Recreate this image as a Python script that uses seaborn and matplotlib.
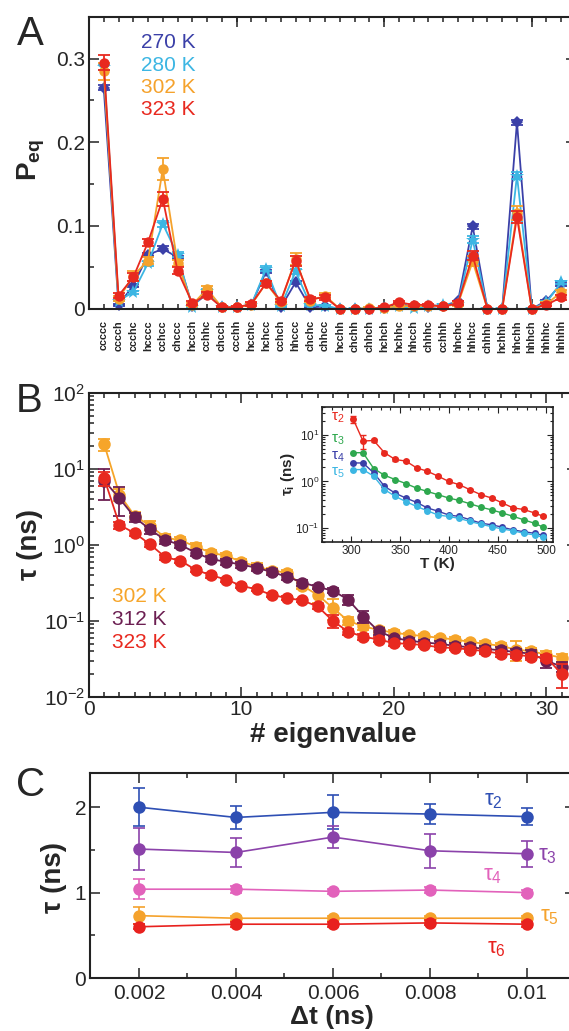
import matplotlib
matplotlib.use('Agg')
import matplotlib.pyplot as plt
import seaborn as sns
from matplotlib.ticker import MultipleLocator, LogLocator, NullFormatter

# ---------------- data ----------------
# panel A: equilibrium populations of the 32 conformational states
states = ['ccccc', 'cccch', 'ccchc', 'hcccc', 'cchcc', 'chccc', 'hccch', 'cchhc',
          'chcch', 'ccchh', 'hcchc', 'hchcc', 'cchch', 'hhccc', 'chchc', 'chhcc',
          'hcchh', 'chchh', 'chhch', 'hchch', 'hchhc', 'hhcch', 'chhhc', 'cchhh',
          'hhchc', 'hhhcc', 'chhhh', 'hchhh', 'hhchh', 'hhhch', 'hhhhc', 'hhhhh']
state_pos = list(range(1, 33))
p270 = [0.265, 0.005, 0.028, 0.065, 0.072, 0.062, 0.004, 0.018, 0.002, 0.002, 0.005, 0.045,
        0.002, 0.032, 0.002, 0.003, 0.0, 0.0, 0.0, 0.001, 0.006, 0.003, 0.002, 0.004,
        0.009, 0.099, 0.0, 0.0, 0.224, 0.0, 0.010, 0.030]
p280 = [0.290, 0.010, 0.020, 0.055, 0.102, 0.065, 0.002, 0.022, 0.002, 0.002, 0.005, 0.048,
        0.003, 0.045, 0.005, 0.004, 0.0, 0.0, 0.0, 0.001, 0.003, 0.001, 0.003, 0.005,
        0.006, 0.083, 0.0, 0.0, 0.160, 0.0, 0.008, 0.032]
p302 = [0.285, 0.012, 0.040, 0.058, 0.168, 0.055, 0.005, 0.024, 0.002, 0.002, 0.005, 0.031,
        0.008, 0.060, 0.010, 0.016, 0.0, 0.0, 0.001, 0.001, 0.004, 0.003, 0.004, 0.003,
        0.006, 0.057, 0.0, 0.0, 0.115, 0.0, 0.006, 0.020]
p323 = [0.295, 0.016, 0.038, 0.080, 0.132, 0.046, 0.007, 0.017, 0.002, 0.002, 0.006, 0.031,
        0.010, 0.058, 0.012, 0.014, 0.0, 0.0, 0.0, 0.002, 0.008, 0.005, 0.005, 0.003,
        0.007, 0.064, 0.0, 0.0, 0.110, 0.0, 0.005, 0.014]
e270 = [0.003, 0.001, 0.002, 0.002, 0.003, 0.002, 0.001, 0.001, 0.0, 0.0, 0.001, 0.002,
        0.0, 0.002, 0.0, 0.0, 0.0, 0.0, 0.0, 0.0, 0.001, 0.0, 0.0, 0.001,
        0.001, 0.003, 0.0, 0.0, 0.003, 0.0, 0.001, 0.002]
e280 = [0.004, 0.001, 0.002, 0.003, 0.004, 0.003, 0.001, 0.002, 0.0, 0.0, 0.001, 0.003,
        0.001, 0.003, 0.001, 0.001, 0.0, 0.0, 0.0, 0.0, 0.001, 0.0, 0.001, 0.001,
        0.001, 0.004, 0.0, 0.0, 0.004, 0.0, 0.001, 0.002]
e302 = [0.010, 0.003, 0.006, 0.004, 0.013, 0.004, 0.002, 0.003, 0.001, 0.001, 0.002, 0.003,
        0.002, 0.007, 0.002, 0.003, 0.0, 0.0, 0.001, 0.001, 0.001, 0.001, 0.001, 0.001,
        0.002, 0.006, 0.0, 0.0, 0.008, 0.0, 0.002, 0.003]
e323 = [0.009, 0.003, 0.005, 0.004, 0.008, 0.004, 0.002, 0.003, 0.001, 0.001, 0.002, 0.003,
        0.002, 0.006, 0.002, 0.003, 0.0, 0.0, 0.0, 0.001, 0.001, 0.001, 0.001, 0.001,
        0.002, 0.005, 0.0, 0.0, 0.007, 0.0, 0.002, 0.003]

# panel B: relaxation times vs eigenvalue index
eig_idx = list(range(1, 32))
tau302 = [21.0, 4.6, 2.4, 1.8, 1.25, 1.15, 0.95, 0.79, 0.72, 0.60, 0.52, 0.46, 0.43, 0.29,
          0.22, 0.148, 0.100, 0.085, 0.076, 0.070, 0.066, 0.063, 0.060, 0.057, 0.053,
          0.050, 0.047, 0.042, 0.040, 0.036, 0.033]
tau312 = [7.0, 4.1, 2.3, 1.6, 1.16, 1.0, 0.79, 0.65, 0.60, 0.55, 0.50, 0.44, 0.38, 0.32,
          0.28, 0.25, 0.19, 0.114, 0.073, 0.060, 0.055, 0.052, 0.050, 0.047, 0.045,
          0.043, 0.041, 0.039, 0.037, 0.030, 0.025]
tau323 = [7.5, 1.83, 1.43, 1.02, 0.69, 0.62, 0.47, 0.40, 0.35, 0.29, 0.26, 0.22, 0.20, 0.186,
          0.155, 0.100, 0.072, 0.062, 0.057, 0.051, 0.050, 0.048, 0.045, 0.044, 0.042,
          0.040, 0.037, 0.036, 0.034, 0.033, 0.020]
etau302 = [4.0, 0.8, 0.3, 0.25, 0.15, 0.12, 0.10, 0.08, 0.07, 0.06, 0.05, 0.04, 0.04, 0.03,
           0.05, 0.045, 0.012, 0.010, 0.006, 0.005, 0.004, 0.004, 0.004, 0.004, 0.004,
           0.004, 0.004, 0.012, 0.004, 0.004, 0.004]
etau312 = [3.1, 1.7, 0.3, 0.2, 0.12, 0.10, 0.07, 0.06, 0.05, 0.05, 0.04, 0.04, 0.03, 0.03,
           0.02, 0.02, 0.03, 0.02, 0.008, 0.004, 0.004, 0.004, 0.004, 0.004, 0.004,
           0.004, 0.004, 0.004, 0.004, 0.006, 0.004]
etau323 = [1.5, 0.2, 0.1, 0.08, 0.05, 0.04, 0.03, 0.03, 0.02, 0.02, 0.015, 0.015, 0.01, 0.01,
           0.01, 0.02, 0.006, 0.005, 0.004, 0.004, 0.003, 0.003, 0.003, 0.003, 0.003,
           0.003, 0.003, 0.003, 0.003, 0.003, 0.007]

# inset: slowest relaxation times vs temperature
temps = [302, 312, 323, 334, 345, 356, 367, 378, 389, 400, 411, 422, 433, 444, 455, 466,
         477, 488, 497]
t2 = [21.8, 7.4, 7.6, 4.15, 2.97, 2.74, 1.96, 1.66, 1.30, 1.0, 0.85, 0.66, 0.52, 0.44,
      0.345, 0.27, 0.25, 0.21, 0.178]
t3 = [4.15, 4.15, 1.9, 1.36, 1.1, 0.9, 0.72, 0.61, 0.52, 0.44, 0.39, 0.33, 0.28, 0.245,
      0.21, 0.178, 0.15, 0.126, 0.104]
t4 = [2.5, 2.5, 1.53, 0.79, 0.56, 0.44, 0.355, 0.27, 0.23, 0.19, 0.177, 0.15, 0.127, 0.117,
      0.104, 0.091, 0.083, 0.077, 0.069]
t5 = [1.8, 1.8, 1.3, 0.67, 0.48, 0.37, 0.29, 0.235, 0.19, 0.177, 0.16, 0.138, 0.12, 0.107,
      0.095, 0.087, 0.077, 0.071, 0.063]
et2 = [3.5, 2.5, 0.6, 0.3, 0.2, 0.15, 0.1, 0.08, 0.06, 0.05, 0.04, 0.03, 0.02, 0.02,
       0.015, 0.01, 0.01, 0.01, 0.008]

# panel C: relaxation times vs lag time
lag = [0.002, 0.004, 0.006, 0.008, 0.010]
c_tau2 = [2.00, 1.88, 1.94, 1.92, 1.89]
c_tau3 = [1.51, 1.47, 1.65, 1.49, 1.455]
c_tau4 = [1.04, 1.04, 1.015, 1.03, 1.00]
c_tau5 = [0.73, 0.70, 0.70, 0.70, 0.70]
c_tau6 = [0.60, 0.63, 0.63, 0.645, 0.63]
c_err2 = [0.22, 0.13, 0.20, 0.12, 0.10]
c_err3 = [0.25, 0.17, 0.13, 0.20, 0.15]
c_err4 = [0.12, 0.04, 0.03, 0.04, 0.03]
c_err5 = [0.10, 0.03, 0.03, 0.03, 0.03]
c_err6 = [0.03, 0.03, 0.03, 0.03, 0.03]

# ---------------- style ----------------
sns.set_style('ticks')
plt.rcParams['font.family'] = ['Liberation Sans', 'DejaVu Sans']
plt.rcParams['mathtext.fontset'] = 'custom'
plt.rcParams['mathtext.rm'] = 'Liberation Sans'
plt.rcParams['mathtext.it'] = 'Liberation Sans:italic'
plt.rcParams['mathtext.bf'] = 'Liberation Sans:bold'
plt.rcParams['axes.edgecolor'] = '#222222'


def draw(ax, x, y, err, color, marker='o', ms=7, lw=1.3, cap=4):
    sns.lineplot(x=x, y=y, ax=ax, color=color, marker=marker, markersize=ms,
                 markeredgewidth=0, linewidth=lw, errorbar=None, clip_on=False)
    ax.errorbar(x, y, yerr=err, fmt='none', ecolor=color, elinewidth=lw,
                capsize=cap, capthick=lw, clip_on=False)


def frame(ax, major=7, minor=3.5, width=1.1, spine=1.5):
    ax.tick_params(which='both', direction='in', top=True, right=True,
                   width=width, color='#222222')
    ax.tick_params(which='major', length=major)
    ax.tick_params(which='minor', length=minor)
    for s in ax.spines.values():
        s.set_linewidth(spine)


fig = plt.figure(figsize=(5.69, 10.31), dpi=100)

# ---------------- panel A ----------------
axA = fig.add_axes([0.1564, 0.7003, 0.8559, 0.2832])
cA = {'270 K': '#3b40a8', '280 K': '#3cb6e3', '302 K': '#f5a22c', '323 K': '#e8291f'}
draw(axA, state_pos, p270, e270, cA['270 K'], marker='D', ms=6.5)
draw(axA, state_pos, p280, e280, cA['280 K'], marker='*', ms=10.5)
draw(axA, state_pos, p302, e302, cA['302 K'], ms=7.5)
draw(axA, state_pos, p323, e323, cA['323 K'], ms=7.5)
axA.set_xlim(0, 33)
axA.set_ylim(0, 0.35)
axA.xaxis.remove_overlapping_locs = False
axA.set_xticks([0, 10, 20, 30], labels=['', '', '', ''])
axA.set_xticks(state_pos, labels=states, minor=True, rotation=90,
               fontsize=7.8, fontweight='bold')
axA.set_yticks([0, 0.1, 0.2, 0.3], labels=['0', '0.1', '0.2', '0.3'])
axA.yaxis.set_minor_locator(MultipleLocator(0.05))
frame(axA)
axA.tick_params(axis='x', which='minor', pad=8)
axA.tick_params(axis='y', labelsize=15, pad=3)
axA.set_ylabel(r'$\mathbf{P_{eq}}$', fontsize=20)
axA.yaxis.set_label_coords(-0.086, 0.51)
for i, (lab, col) in enumerate(cA.items()):
    axA.text(0.107, 0.911 - i * 0.076, lab, color=col, fontsize=15,
             transform=axA.transAxes, va='center', ha='left')

# ---------------- panel B ----------------
axB = fig.add_axes([0.1564, 0.3240, 0.8576, 0.2949])
cB = {'302 K': '#f6a52a', '312 K': '#6c1f52', '323 K': '#e8291f'}
axB.set_yscale('log')
draw(axB, eig_idx, tau302, etau302, cB['302 K'], ms=9, cap=4.5)
draw(axB, eig_idx, tau312, etau312, cB['312 K'], ms=9, cap=4.5)
draw(axB, eig_idx, tau323, etau323, cB['323 K'], ms=9, cap=4.5)
axB.set_xlim(0, 32)
axB.set_ylim(1e-2, 1e2)
axB.set_xticks([0, 10, 20, 30])
axB.xaxis.set_minor_locator(MultipleLocator(1))
axB.yaxis.set_major_locator(LogLocator(base=10, numticks=10))
axB.yaxis.set_minor_locator(LogLocator(base=10, subs=range(2, 10), numticks=20))
axB.yaxis.set_minor_formatter(NullFormatter())
frame(axB)
axB.tick_params(axis='both', labelsize=15)
axB.tick_params(axis='x', pad=2)
axB.tick_params(axis='y', pad=3)
axB.set_xlabel('# eigenvalue', fontsize=20, fontweight='bold')
axB.xaxis.set_label_coords(0.5, -0.082)
axB.set_ylabel('τ (ns)', fontsize=20, fontweight='bold')
axB.yaxis.set_label_coords(-0.094, 0.5)
for i, (lab, col) in enumerate(cB.items()):
    axB.text(0.047, 0.33 - i * 0.076, lab, color=col, fontsize=15,
             transform=axB.transAxes, va='center', ha='left')

# inset
axI = fig.add_axes([0.566, 0.4743, 0.406, 0.131])
axI.set_facecolor('white')
cI = ['#e8291f', '#2ea84e', '#3b40a8', '#3cb6e3']
axI.set_yscale('log')
draw(axI, temps, t2, et2, cI[0], ms=5, lw=1.0, cap=2.5)
draw(axI, temps, t3, None, cI[1], ms=5, lw=1.0, cap=2.5)
draw(axI, temps, t4, None, cI[2], ms=5, lw=1.0, cap=2.5)
draw(axI, temps, t5, None, cI[3], ms=5, lw=1.0, cap=2.5)
axI.set_xlim(270, 507)
axI.set_ylim(0.05, 40)
axI.set_xticks([300, 350, 400, 450, 500])
axI.xaxis.set_minor_locator(MultipleLocator(10))
axI.yaxis.set_major_locator(LogLocator(base=10, numticks=10))
axI.yaxis.set_minor_locator(LogLocator(base=10, subs=range(2, 10), numticks=20))
axI.yaxis.set_minor_formatter(NullFormatter())
frame(axI, major=4, minor=2, width=0.8, spine=1.2)
axI.tick_params(axis='both', labelsize=8.5, pad=2)
axI.set_xlabel('T (K)', fontsize=11, fontweight='bold', labelpad=0)
axI.set_ylabel(r'$\mathbf{\tau_i}$ (ns)', fontsize=11, fontweight='bold', labelpad=0)
axI.yaxis.set_label_coords(-0.108, 0.5)
for i, lab in enumerate([r'$\mathregular{\tau_2}$', r'$\mathregular{\tau_3}$',
                         r'$\mathregular{\tau_4}$', r'$\mathregular{\tau_5}$']):
    axI.text(0.07, [0.92, 0.755, 0.63, 0.51][i], lab, color=cI[i], fontsize=11,
             transform=axI.transAxes, va='center', ha='center')

# ---------------- panel C ----------------
axC = fig.add_axes([0.1590, 0.0514, 0.8524, 0.1988])
cC = ['#2e4fb4', '#8b42aa', '#e262bb', '#f5a22c', '#e8211e']
series = [c_tau2, c_tau3, c_tau4, c_tau5, c_tau6]
errs = [c_err2, c_err3, c_err4, c_err5, c_err6]
for yv, ev, col in zip(series, errs, cC):
    draw(axC, lag, yv, ev, col, ms=9, lw=1.2, cap=4.5)
axC.set_xlim(0.001, 0.011)
axC.set_ylim(0, 2.4)
axC.set_xticks(lag, labels=['0.002', '0.004', '0.006', '0.008', '0.01'])
axC.xaxis.set_minor_locator(MultipleLocator(0.001))
axC.set_yticks([0, 1, 2])
axC.yaxis.set_minor_locator(MultipleLocator(0.5))
frame(axC)
axC.tick_params(axis='both', labelsize=15)
axC.tick_params(axis='x', pad=4)
axC.tick_params(axis='y', pad=3)
axC.set_xlabel('Δt (ns)', fontsize=19, fontweight='bold')
axC.xaxis.set_label_coords(0.498, -0.13)
axC.set_ylabel('τ (ns)', fontsize=20, fontweight='bold')
axC.yaxis.set_label_coords(-0.048, 0.49)
c_lab_pos = [(0.83, 0.868), (0.943, 0.60), (0.83, 0.502), (0.947, 0.298), (0.838, 0.146)]
for k, (pos, col) in enumerate(zip(c_lab_pos, cC)):
    axC.text(pos[0], pos[1], r'$\mathregular{\tau_%d}$' % (k + 2), color=col, fontsize=16,
             transform=axC.transAxes, va='center', ha='center')

# panel letters
fig.text(0.053, 0.967, 'A', fontsize=29, ha='center', va='center')
fig.text(0.051, 0.611, 'B', fontsize=29, ha='center', va='center')
fig.text(0.053, 0.239, 'C', fontsize=29, ha='center', va='center')

fig.savefig('out.png', dpi=100)
